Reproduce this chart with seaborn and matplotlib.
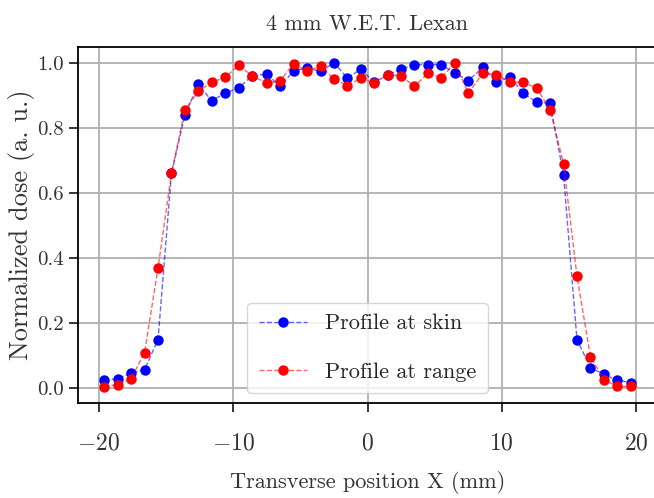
import numpy as np
import pandas as pd
import matplotlib
matplotlib.use("Agg")
import matplotlib.pyplot as plt
import seaborn as sns

# ── Données ──────────────────────────────────────────────────────────────────
x_mm = [-19.6, -18.6, -17.6, -16.6, -15.6, -14.6, -13.6, -12.6, -11.6, -10.6,
        -9.6, -8.6, -7.5, -6.5, -5.5, -4.5, -3.5, -2.5, -1.5, -0.5,
        0.5, 1.5, 2.5, 3.5, 4.5, 5.5, 6.5, 7.5, 8.6, 9.6,
        10.6, 11.6, 12.6, 13.6, 14.6, 15.6, 16.6, 17.6, 18.6, 19.6]

dose_skin = [0.025, 0.030, 0.047, 0.058, 0.150, 0.660, 0.840, 0.934, 0.883, 0.907,
             0.922, 0.960, 0.965, 0.927, 0.975, 0.984, 0.973, 1.000, 0.953, 0.980,
             0.940, 0.963, 0.980, 0.994, 0.994, 0.994, 0.968, 0.945, 0.986, 0.940,
             0.956, 0.907, 0.878, 0.876, 0.655, 0.150, 0.064, 0.043, 0.025, 0.018]

dose_range = [0.005, 0.012, 0.030, 0.110, 0.370, 0.660, 0.855, 0.912, 0.940, 0.955,
              0.992, 0.960, 0.937, 0.945, 0.997, 0.973, 0.990, 0.950, 0.930, 0.953,
              0.937, 0.963, 0.960, 0.927, 0.968, 0.953, 1.000, 0.907, 0.968, 0.963,
              0.940, 0.940, 0.922, 0.855, 0.690, 0.345, 0.098, 0.027, 0.006, 0.006]

# ── Style ────────────────────────────────────────────────────────────────────
sns.set_theme(style="ticks", rc={
    "axes.edgecolor": "black",
    "axes.linewidth": 1.3,
    "xtick.major.size": 6.5,
    "ytick.major.size": 6.5,
    "xtick.major.width": 1.3,
    "ytick.major.width": 1.3,
})
plt.rcParams["font.family"] = ["cmr10", "DejaVu Serif"]
plt.rcParams["mathtext.fontset"] = "cm"
plt.rcParams["axes.formatter.use_mathtext"] = True

FS = 16
TXT = "#333333"
fig = plt.figure(figsize=(6.54, 4.98), dpi=100)
ax = fig.add_axes([78 / 654, 1 - 403 / 498, (657 - 78) / 654, (403 - 46.5) / 498])

df = pd.DataFrame({"x": x_mm, "skin": dose_skin, "range": dose_range})

sns.lineplot(data=df, x="x", y="skin", ax=ax, label="Profile at skin",
             color=(0, 0, 1, 0.6), linestyle="--", linewidth=1.0,
             marker="o", markersize=7.5, markerfacecolor="blue",
             markeredgecolor="blue", markeredgewidth=0)
sns.lineplot(data=df, x="x", y="range", ax=ax, label="Profile at range",
             color=(1, 0, 0, 0.6), linestyle="--", linewidth=1.0,
             marker="o", markersize=7.5, markerfacecolor="red",
             markeredgecolor="red", markeredgewidth=0)

ax.grid(True, color="#b0b0b0", linewidth=1.3)
ax.set_axisbelow(True)
ax.set_xticks([-20, -10, 0, 10, 20])
ax.set_yticks([0.0, 0.2, 0.4, 0.6, 0.8, 1.0])
ax.set_yticklabels(["0.0", "0.2", "0.4", "0.6", "0.8", "1.0"])
ax.tick_params(axis="x", labelsize=17, labelcolor=TXT, pad=14.5)
ax.tick_params(axis="y", labelsize=15, labelcolor=TXT, pad=4)

ax.set_title("4 mm W.E.T. Lexan", fontsize=FS, color=TXT, pad=12)
ax.set_xlabel("Transverse position X (mm)", fontsize=FS, color=TXT, va="center")
ax.set_ylabel("Normalized dose (a. u.)", fontsize=19, color=TXT, va="center")
ax.xaxis.set_label_coords(0.5, (403 - 482) / 356.5)
ax.yaxis.set_label_coords((22 - 78) / 579, 0.5)

ax.legend(loc="lower center", fontsize=FS, handlelength=2.2,
          framealpha=0.8, edgecolor="#cccccc", fancybox=True,
          labelspacing=1.3, borderpad=0.5, borderaxespad=0.45)

fig.savefig("out.png", dpi=100)
